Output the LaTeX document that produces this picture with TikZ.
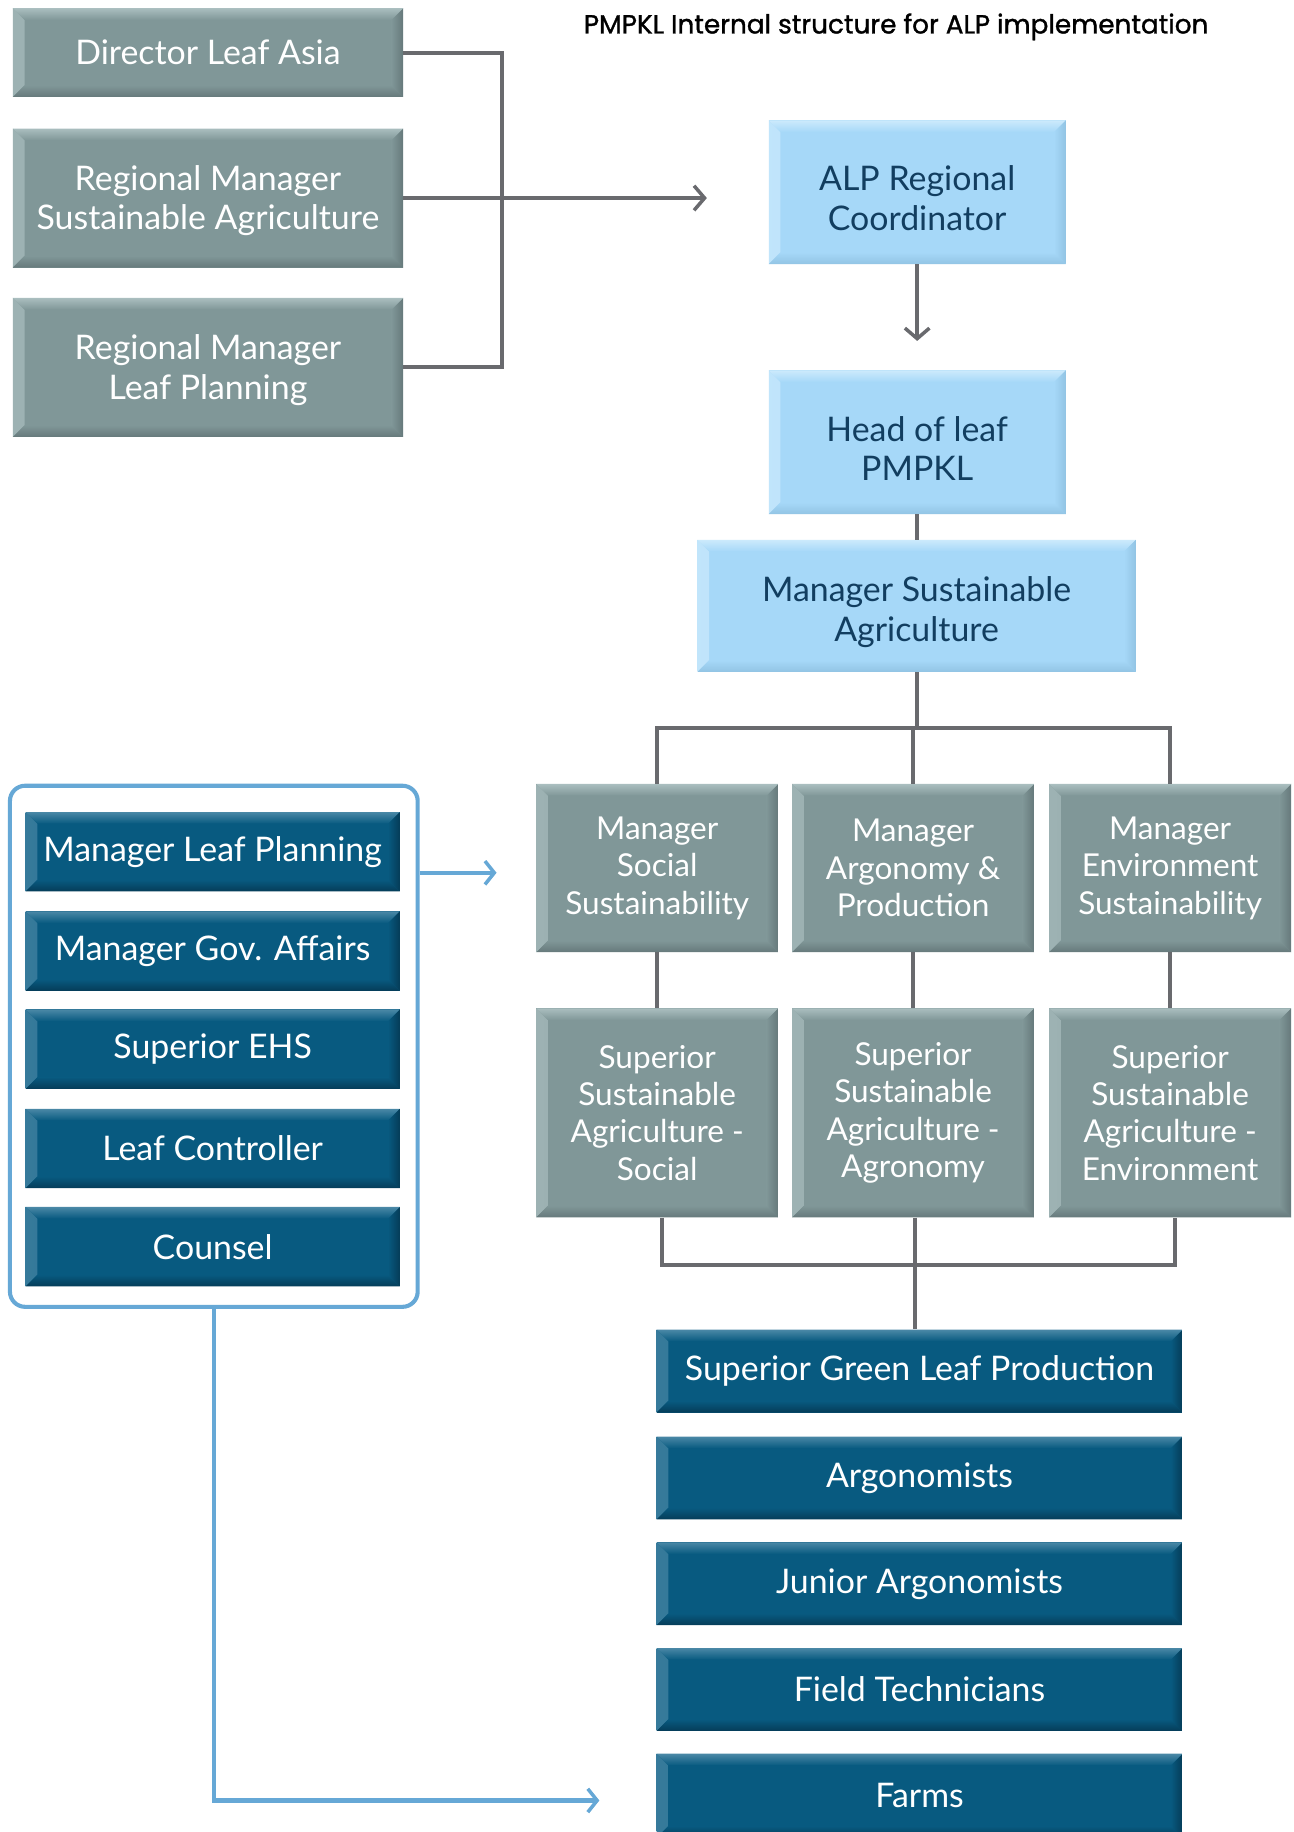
\documentclass[tikz,border=0pt]{standalone}
\usepackage{fontspec}
\setmainfont{Lato}
\newfontfamily\titlefont[FakeBold=1.2]{Poppins}
\usetikzlibrary{arrows.meta,calc}
\definecolor{grayfill}{RGB}{128,151,152}
\definecolor{graylight}{RGB}{170,190,191}
\definecolor{graydark}{RGB}{102,121,123}
\definecolor{lbfill}{RGB}{166,216,248}
\definecolor{lblight}{RGB}{204,234,252}
\definecolor{lbdark}{RGB}{146,196,228}
\definecolor{lbtext}{RGB}{18,62,96}
\definecolor{dbfill}{RGB}{8,90,128}
\definecolor{dblight}{RGB}{74,136,166}
\definecolor{dbdark}{RGB}{5,60,88}
\definecolor{conn}{RGB}{105,106,110}
\definecolor{bconn}{RGB}{102,168,214}
\tikzset{
  bevel/.style n args={3}{rectangle, inner sep=0pt, fill=#1, align=center,
    path picture={
      \shade[left color=#2!70!#1, right color=#1]
        (path picture bounding box.north west)
        -- ([xshift=10pt,yshift=-10pt]path picture bounding box.north west)
        -- ([xshift=10pt,yshift=10pt]path picture bounding box.south west)
        -- (path picture bounding box.south west) -- cycle;
      \shade[left color=#1, right color=#3]
        (path picture bounding box.north east)
        -- ([xshift=-10pt,yshift=-10pt]path picture bounding box.north east)
        -- ([xshift=-10pt,yshift=10pt]path picture bounding box.south east)
        -- (path picture bounding box.south east) -- cycle;
      \shade[top color=#2, bottom color=#1]
        (path picture bounding box.north west)
        -- (path picture bounding box.north east)
        -- ([xshift=-10pt,yshift=-10pt]path picture bounding box.north east)
        -- ([xshift=10pt,yshift=-10pt]path picture bounding box.north west) -- cycle;
      \shade[top color=#1, bottom color=#3]
        (path picture bounding box.south west)
        -- (path picture bounding box.south east)
        -- ([xshift=-10pt,yshift=10pt]path picture bounding box.south east)
        -- ([xshift=10pt,yshift=10pt]path picture bounding box.south west) -- cycle;
    }},
  graybox/.style={bevel={grayfill}{graylight}{graydark}, text=white,
    font=\fontsize{29}{34}\selectfont},
  mgrbox/.style={bevel={grayfill}{graylight}{graydark}, text=white,
    font=\fontsize{27}{32}\selectfont, minimum width=207pt},
  lbbox/.style={bevel={lbfill}{lblight}{lbdark}, text=lbtext,
    font=\fontsize{29}{34}\selectfont},
  dbbox/.style={bevel={dbfill}{dblight}{dbdark}, text=white,
    font=\fontsize{29}{32}\selectfont},
  gline/.style={draw=conn, line width=3.5pt},
  garrow/.style={gline, -{Straight Barb[length=9pt,width=21pt,line width=3pt]}},
  bline/.style={draw=bconn, line width=3.5pt},
  barrow/.style={bline, -{Straight Barb[length=8pt,width=20pt,line width=3pt]}},
}
\begin{document}
\begin{tikzpicture}[x=1pt,y=-1pt]
\clip (0,0) rectangle (1107,1568);
\fill[white] (0,0) rectangle (1107,1568);

\node[font=\titlefont\fontsize{22.5}{26}\selectfont] (title) at (767,23) {PMPKL Internal structure for ALP implementation};

% top-left grey boxes
\node[graybox, minimum width=334pt, minimum height=76pt] (dir) at (178,45) {Director Leaf Asia};
\node[graybox, minimum width=334pt, minimum height=119pt] (rmsa) at (178,169.5) {\rule{0pt}{26pt}Regional Manager\\Sustainable Agriculture};
\node[graybox, minimum width=334pt, minimum height=119pt] (rmlp) at (178,314.5) {\rule{0pt}{26pt}Regional Manager\\Leaf Planning};

% light blue chain
\node[lbbox, minimum width=254pt, minimum height=123pt] (alp) at (785,164.5) {\rule{0pt}{32pt}ALP Regional\\Coordinator};
\node[lbbox, minimum width=254pt, minimum height=123pt] (head) at (785,378.5) {\rule{0pt}{32pt}Head of leaf\\PMPKL};
\node[lbbox, minimum width=375pt, minimum height=113pt] (msa) at (784.5,518.5) {\rule{0pt}{32pt}Manager Sustainable\\Agriculture};

% managers
\node[mgrbox, minimum height=144pt] (m1) at (562.5,743) {Manager\\Social\\Sustainability};
\node[mgrbox, minimum height=144pt] (m2) at (781.5,743) {Manager\\Argonomy \&\\Production};
\node[mgrbox, minimum height=144pt] (m3) at (1001.5,743) {Manager\\Environment\\Sustainability};

% superiors
\node[mgrbox, minimum height=179pt] (s1) at (562.5,952.5) {Superior\\Sustainable\\Agriculture -\\Social};
\node[mgrbox, minimum height=179pt] (s2) at (781.5,952.5) {Superior\\Sustainable\\Agriculture -\\Agronomy};
\node[mgrbox, minimum height=179pt] (s3) at (1001.5,952.5) {Superior\\Sustainable\\Agriculture -\\Environment};

% left group
\node[draw=bconn, line width=3.5pt, rounded corners=13pt, minimum width=349pt, minimum height=446pt, inner sep=0pt] (grp) at (183,895.5) {};
\node[dbbox, minimum width=320pt, minimum height=68pt] (mlp) at (182,729) {Manager Leaf Planning};
\node[dbbox, minimum width=320pt, minimum height=68pt] (mga) at (182,814) {Manager Gov. Affairs};
\node[dbbox, minimum width=320pt, minimum height=68pt] (ehs) at (182,898) {Superior EHS};
\node[dbbox, minimum width=320pt, minimum height=68pt] (lc) at (182,983) {Leaf Controller};
\node[dbbox, minimum width=320pt, minimum height=68pt] (cou) at (182,1067) {Counsel};

% bottom right column
\node[dbbox, minimum width=450pt, minimum height=71pt] (sglp) at (787,1173.5) {Superior Green Leaf Production};
\node[dbbox, minimum width=450pt, minimum height=71pt] (arg) at (787,1265) {Argonomists};
\node[dbbox, minimum width=450pt, minimum height=71pt] (jun) at (787,1355.5) {Junior Argonomists};
\node[dbbox, minimum width=450pt, minimum height=71pt] (fld) at (787,1446) {Field Technicians};
\node[dbbox, minimum width=450pt, minimum height=72pt] (farm) at (787,1537) {Farms};

% grey connectors top
\coordinate (tk) at (430,0);
\coordinate (alpin) at (605,0);
\draw[gline] (dir.east) -- (dir.east -| tk) -- (rmlp.east -| tk) -- (rmlp.east);
\draw[garrow] (rmsa.east) -- (rmsa.east -| alpin);
\draw[garrow] (alp.south) -- ([yshift=25pt]head.north);
\draw[gline] (head.south) -- (head.south |- msa.north);

\coordinate (bus1) at (783,623);
\draw[gline] (msa.south) -- (msa.south |- bus1);
\draw[gline] (m1.north) -- (m1.north |- bus1) -- (m3.north |- bus1) -- (m3.north);
\draw[gline] (m2.north) -- (m2.north |- bus1);
\draw[gline] (m1.south) -- (s1.north);
\draw[gline] (m2.south) -- (s2.north);
\draw[gline] (m3.south) -- (s3.north);

\coordinate (bus2) at (783,1083);
\draw[gline] ([xshift=4pt]s1.south) -- ([xshift=4pt]s1.south |- bus2) -- ([xshift=4pt]s3.south |- bus2) -- ([xshift=4pt]s3.south);
\draw[gline] (bus2 |- s2.south) -- (bus2 |- sglp.north);

% blue connectors
\coordinate (ba) at (425,747);
\draw[barrow] (grp.east |- ba) -- (ba);
\coordinate (bf) at (513,1541);
\draw[barrow] (grp.south) |- (bf);
\end{tikzpicture}
\end{document}
